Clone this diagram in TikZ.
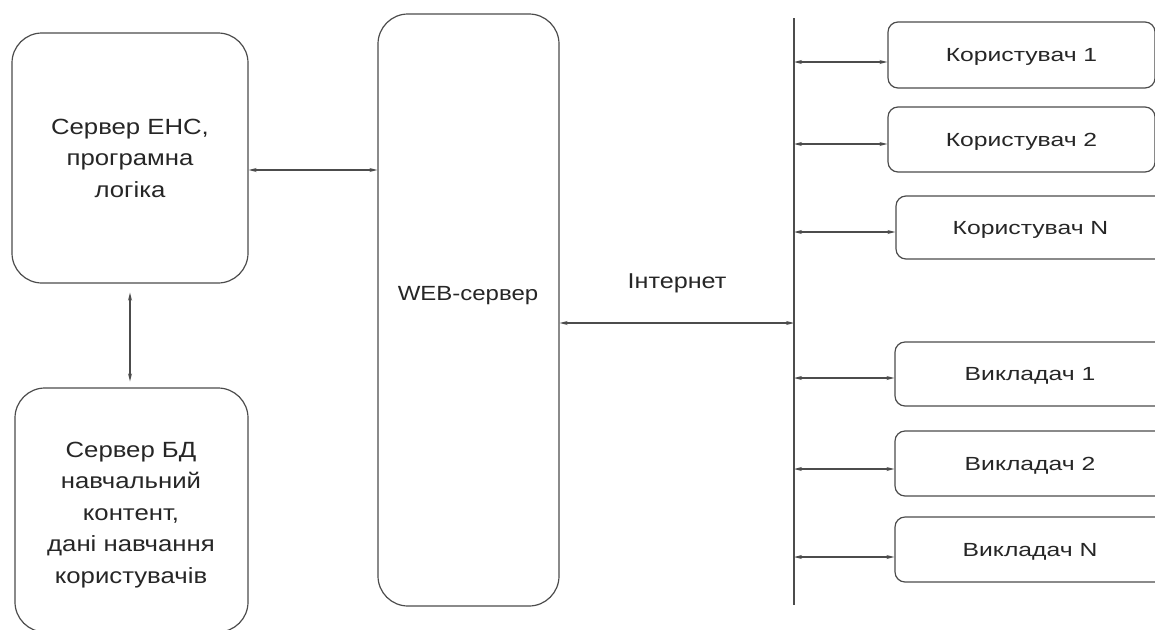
\documentclass[tikz,border=0pt]{standalone}
\usepackage{fontspec}
\setmainfont{Liberation Sans}
\newfontfamily\leftfont[FakeStretch=1.17]{Liberation Sans}
\newfontfamily\rightfont[FakeStretch=1.3]{Liberation Sans}
\usetikzlibrary{arrows.meta}
\begin{document}
\begin{tikzpicture}[x=1pt,y=-1pt,
  ln/.style={draw=black!70,line width=1.2pt},
  bigbox/.style={ln,rounded corners=30pt,inner sep=0pt,text=black!85,align=center,
     font=\leftfont\fontsize{22}{31.5}\selectfont},
  smallbox/.style={ln,rounded corners=10pt,inner sep=0pt,text=black!85,
     font=\rightfont\fontsize{19}{22}\selectfont,minimum height=65pt,text depth=-1pt},
  lbl/.style={text=black!85,inner sep=0pt},
  arr/.style={ln,{Stealth[length=8pt,width=4pt]}-{Stealth[length=8pt,width=4pt]}}]
\useasboundingbox (0,0) rectangle (1155,629);
% left boxes
\node[bigbox,minimum width=236pt,minimum height=250pt] (ehs) at (130,158)
  {Сервер ЕНС,\\програмна\\логіка};
\node[bigbox,minimum width=233pt,minimum height=244pt] (db) at (131.5,510) {};
\node[lbl,align=center,font=\leftfont\fontsize{22}{31.5}\selectfont] (dbl) at (131,515)
  {Сервер БД\\навчальний\\контент,\\дані навчання\\користувачів};
% web server
\node[bigbox,minimum width=181pt,minimum height=592pt] (web) at (468.5,310) {};
\node[lbl,font=\leftfont\fontsize{20.5}{22}\selectfont] (webl) at (468,296) {WEB-сервер};
\node[lbl,font=\leftfont\fontsize{21.5}{22}\selectfont] (inet) at (677,283) {Інтернет};
% bus
\coordinate (bustop) at (794,18);
\coordinate (busbot) at (794,605);
\draw[ln] (bustop) -- (busbot);
% right boxes
\node[smallbox,minimum width=267pt,minimum height=66pt] (u1) at (1021.5,55) {Користувач 1};
\node[smallbox,minimum width=267pt] (u2) at (1021.5,139.5) {Користувач 2};
\node[smallbox,minimum width=269pt,minimum height=63pt] (uN) at (1030.5,227.5) {Користувач N};
\node[smallbox,minimum width=270pt,minimum height=64pt] (v1) at (1030,374) {Викладач 1};
\node[smallbox,minimum width=270pt] (v2) at (1030,463.5) {Викладач 2};
\node[smallbox,minimum width=270pt] (vN) at (1030,549.5) {Викладач N};
% connectors
\draw[arr] ([yshift=-12pt]ehs.east) -- ([yshift=-12pt]ehs.east -| web.west);
\draw[arr,shorten <=9pt,shorten >=6pt] (ehs.south) -- (ehs.south |- db.north);
\draw[arr] ([yshift=-13pt]web.east) -- ([yshift=-13pt]web.east -| bustop);
\foreach \b/\d in {u1/7,u2/4.5,uN/4.5,v1/4,v2/5.5,vN/7.5}{
  \draw[arr] ([yshift=-\d pt]\b.west -| bustop) -- ([yshift=-\d pt]\b.west);
}
\end{tikzpicture}
\end{document}
